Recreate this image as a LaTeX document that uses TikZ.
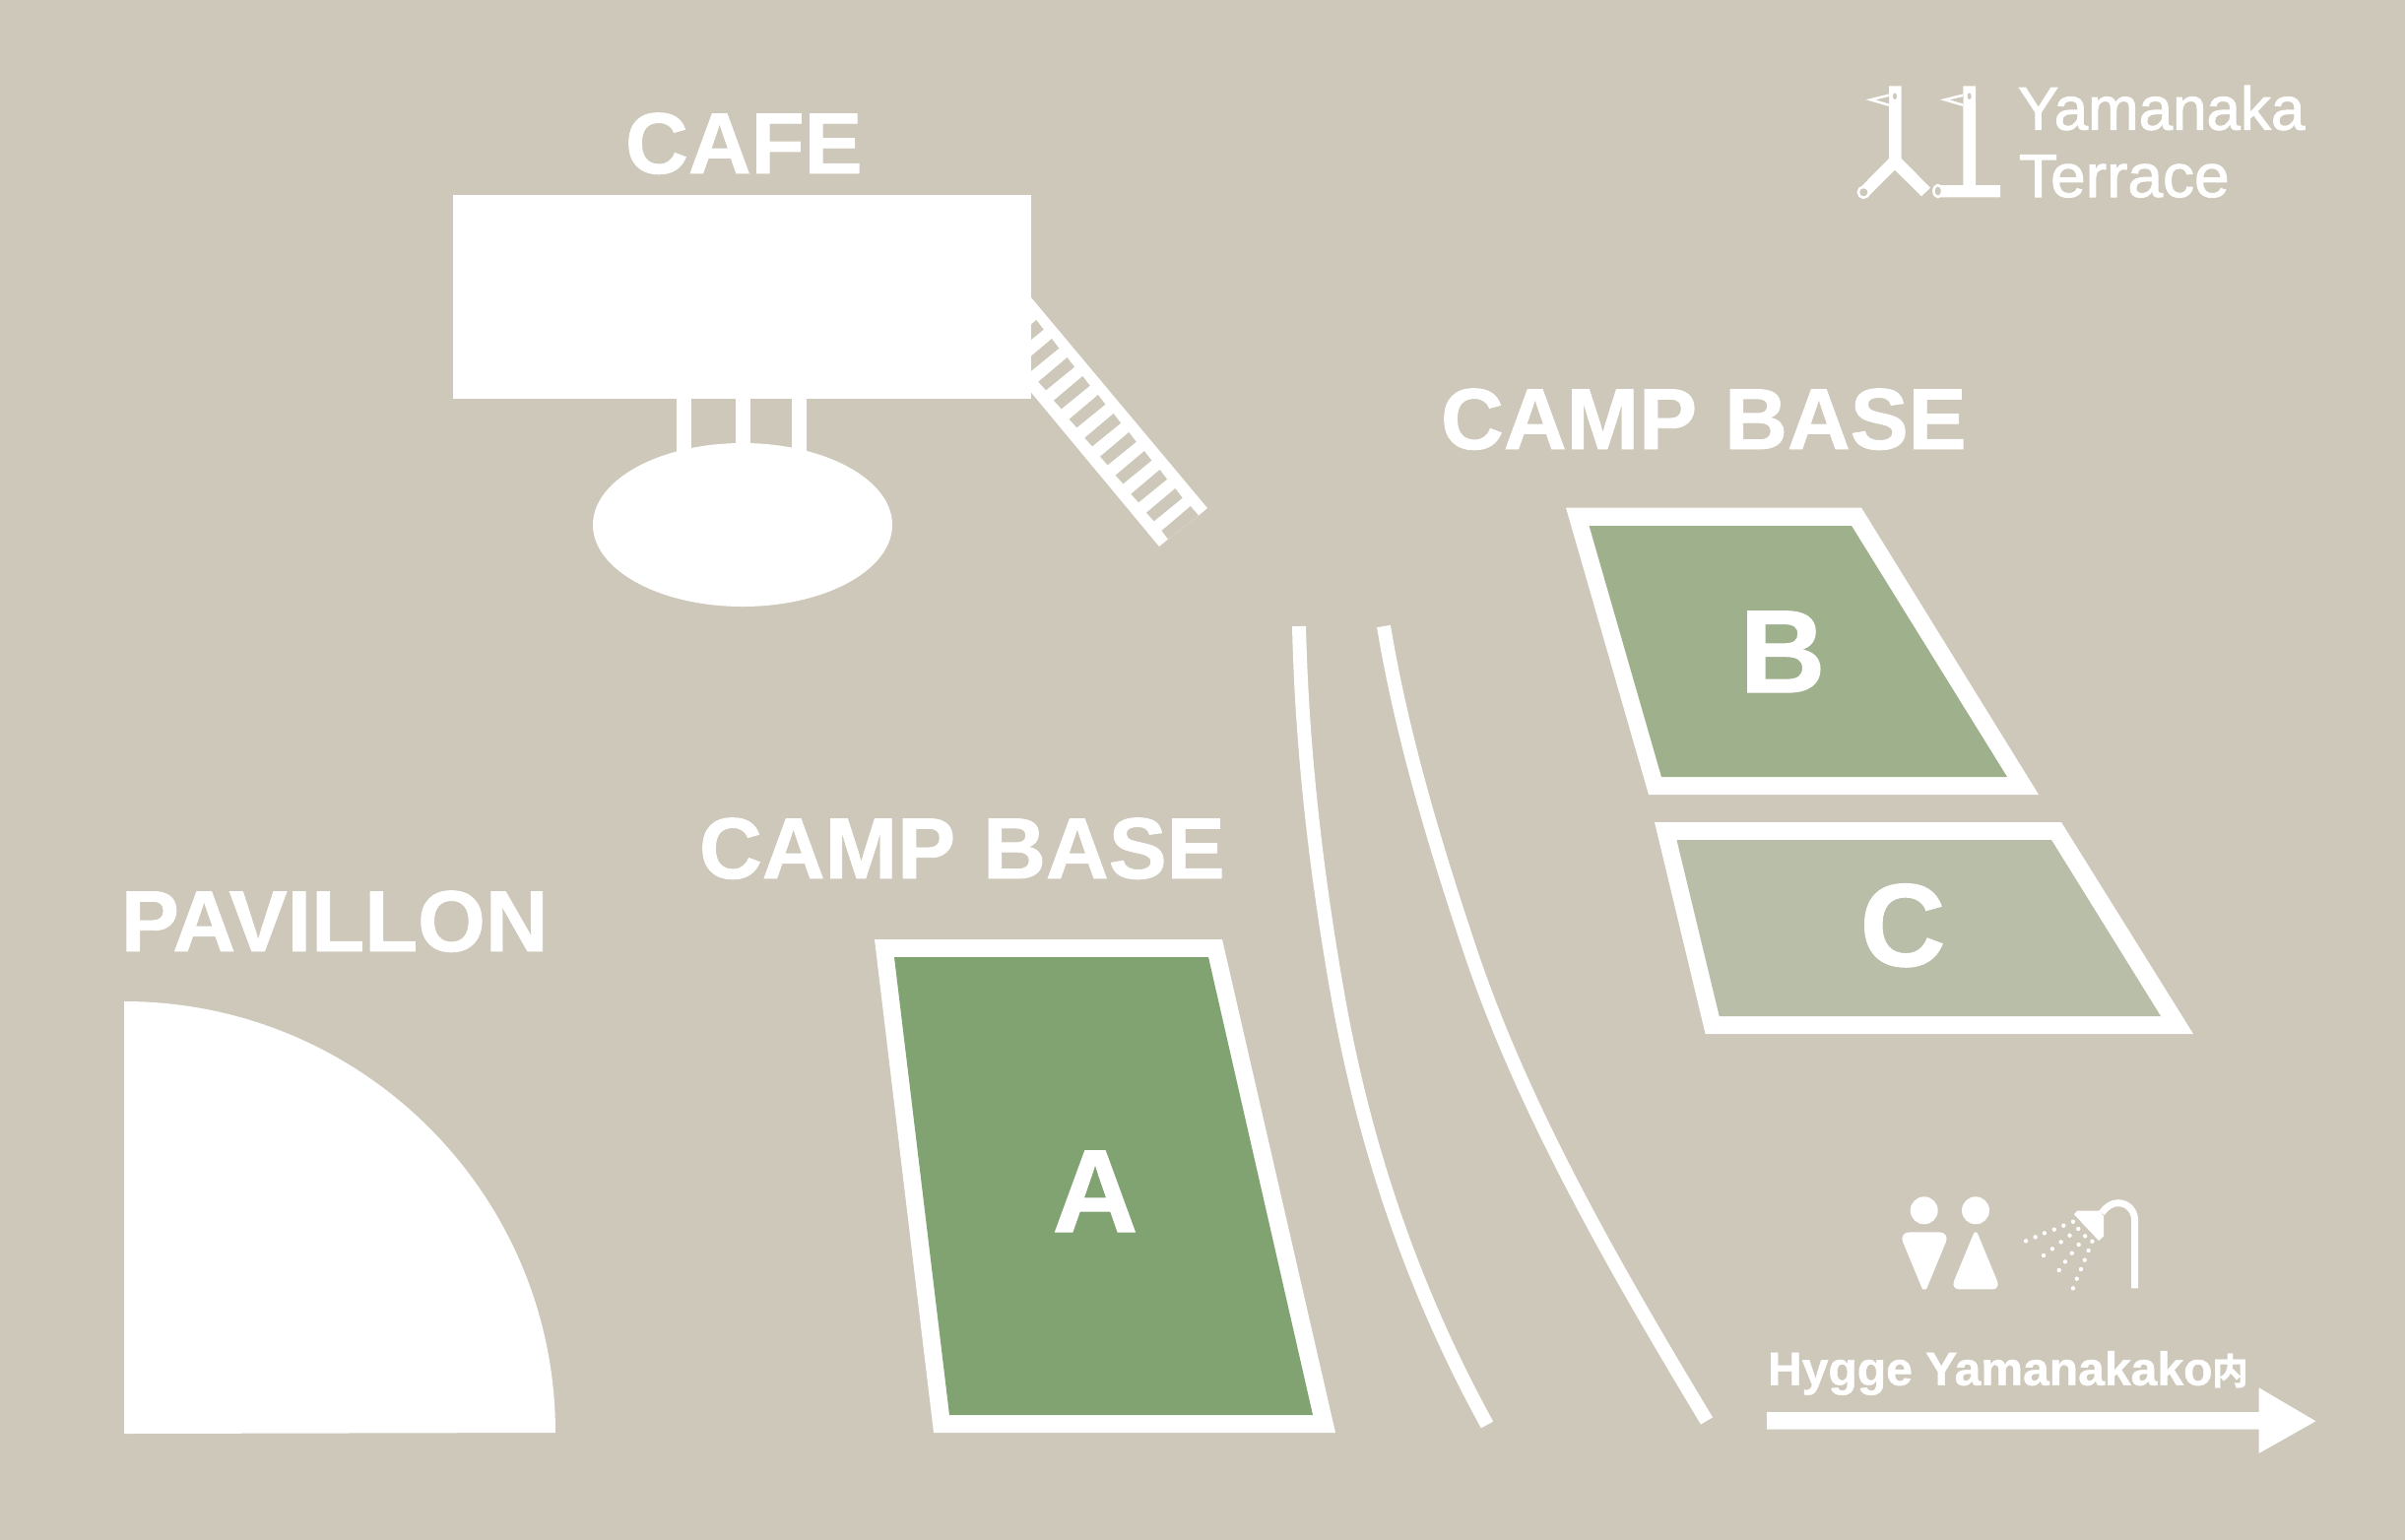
\documentclass[tikz,border=0pt]{standalone}
\usepackage{fontspec}
\setmainfont{Liberation Sans}
\newfontfamily\labfont[FakeStretch=1.005,BoldFeatures={FakeBold=1.0}]{Liberation Sans}
\newfontfamily\logofont[FakeBold=1.6]{Liberation Sans}
\newfontfamily\logowide[FakeBold=1.6,FakeStretch=1.035]{Liberation Sans}
\newfontfamily\cjkfont{Noto Sans CJK JP}
\definecolor{bgc}{HTML}{CDC8B9}
\definecolor{siteA}{HTML}{81A372}
\definecolor{siteB}{HTML}{9EB08C}
\definecolor{siteC}{HTML}{B9BEA8}
\newcommand{\fs}[1]{\fontsize{#1pt}{#1pt}\selectfont}
\tikzset{
  txt/.style={text=white,inner sep=0pt,outer sep=0pt,anchor=base west},
  lab/.style={txt,font=\labfont\bfseries\fs{25}},
  sitelet/.style={txt,anchor=base,font=\labfont\bfseries\fs{34}},
  logotxt/.style={txt,font=\logofont\fs{17.6}},
  logotxtw/.style={txt,font=\logowide\fs{17.6}},
  road/.style={white,line width=0.14cm},
  beak/.style={white,line width=0.025cm,fill=bgc,line join=miter}
}
\begin{document}
\begin{tikzpicture}[x=0.01cm,y=-0.01cm]
\useasboundingbox (0,0) rectangle (2442,1563);
\fill[bgc] (-5,-5) rectangle (2447,1568);

% ladder
\fill[white] (1000,246) -- (1226,516) -- (1217,523.5) -- (1186,547.5) -- (1177,555) -- (1000,342) -- cycle;
\foreach \i in {0,...,9}
  \fill[bgc,shift={({-15.67*\i},{-19*\i})}] (1164,520.7) -- (1193.3,496) -- (1200.7,505.7) -- (1171.7,529.3) -- cycle;
\fill[bgc] (1217,523.5) -- (1186,547.5) -- (1179.5,539) -- (1208.8,514) -- cycle;
% cafe
\fill[white] (459.5,198) rectangle (1047,405);
\fill[white] (687,400) rectangle (702,470);
\fill[white] (747,400) rectangle (762,470);
\fill[white] (804,400) rectangle (819,470);
\fill[white] (754,533) ellipse[x radius=152,y radius=83];
\node[lab] (cafe) at (635,176) {CAFE};

% pavillon
\fill[white] (126,1456) -- (126,1017) arc[start angle=-90,end angle=0,radius=438] -- cycle;
\node[lab] (pav) at (123,966) {PAVILLON};

% site A
\fill[white] (888,954) -- (1241,954) -- (1356,1455) -- (948,1455) -- cycle;
\fill[siteA] (908,972) -- (1227,972) -- (1333,1437) -- (964,1437) -- cycle;
\node[sitelet] (a) at (1112,1251) {A};
\node[lab] (base1) at (710,892) {CAMP\hspace{1pt} BASE};

% site B
\fill[white] (1590,515.6) -- (1890,515.6) -- (2070,807) -- (1674,807) -- cycle;
\fill[siteB] (1613.6,534) -- (1880,534) -- (2038,789) -- (1687,789) -- cycle;
\node[sitelet] (b) at (1810,703) {B};
% site C
\fill[white] (1680,835) -- (2093,835) -- (2227,1050) -- (1731.6,1050) -- cycle;
\fill[siteC] (1702.5,853) -- (2083,853) -- (2194,1032) -- (1745.7,1032) -- cycle;
\node[sitelet] (c) at (1932,981) {C};
\node[lab] (base2) at (1463,456) {CAMP\hspace{1pt} BASE};

% roads
\draw[road] (1319,636) .. controls (1322,764) and (1337,892) .. (1360,1020) .. controls (1386,1162) and (1432,1305) .. (1510,1447);
\draw[road] (1405,636) .. controls (1423,744) and (1455,852) .. (1491,960) .. controls (1544,1121) and (1636,1282) .. (1733,1443);

% logo
\fill[white] (1918,87.3) -- (1930.7,87.3) -- (1930.7,161) -- (1960,190.7) -- (1951,199.3) -- (1924,172.7) -- (1896.7,200) -- (1888.3,191) -- (1918,161) -- cycle;
\fill[white] (1993.3,87.3) -- (2006,87.3) -- (2006,188) -- (2031,188) -- (2031,200.3) -- (1968,200.3) -- (1968,188) -- (1993.3,188) -- cycle;
\draw[beak] (1918,96.7) -- (1899.3,101.3) -- (1918,106.7);
\draw[beak] (1993.3,96.7) -- (1974.7,101.3) -- (1993.3,106.7);
\fill[bgc] (1924,97.7) ellipse[x radius=2,y radius=3.3];
\fill[bgc] (1999.7,97.7) ellipse[x radius=2,y radius=3.3];
\draw[beak] (1892.3,195.3) ellipse[x radius=5.5,y radius=5.5];
\draw[beak] (1967.7,194) ellipse[x radius=4.3,y radius=6];
\node[logotxt] (yam) at (2049,131.7) {Yamanaka};
\node[logotxtw] (ter) at (2050,200) {Terrace};

% toilets
\fill[white] (1953.7,1229.3) ellipse[x radius=14,y radius=14];
\fill[white] (2006,1229.3) ellipse[x radius=14,y radius=14];
\fill[white] (1939,1251.3) -- (1969,1251.3) .. controls (1975,1251.3) and (1978,1256) .. (1976,1261) -- (1956,1309.3) -- (1952,1309.3) -- (1932,1261) .. controls (1930,1256) and (1933,1251.3) .. (1939,1251.3) -- cycle;
\fill[white] (2004,1252.7) .. controls (2005,1250.5) and (2007,1250.5) .. (2008,1252.7) -- (2028,1301) .. controls (2030,1306) and (2027,1309.3) .. (2024,1309.3) -- (1989,1309.3) .. controls (1985,1309.3) and (1982,1306) .. (1984,1301) -- cycle;

% shower
\fill[white] (2106,1233.3) -- (2109,1229.7) -- (2131.3,1229.7) -- (2136,1235) -- (2136,1255.7) -- (2131,1260) -- cycle;
\draw[white,line width=0.07cm] (2134,1232) .. controls (2139,1225) and (2145,1221.7) .. (2150.5,1221.7) .. controls (2161,1221.7) and (2167.7,1230) .. (2167.7,1240) -- (2167.7,1308.3);
\foreach \x/\y in {724/211,749/199,773/187,799/176,824/164,849/152,771/255,794/235,817/214,840/194,863/174,812/300,828/274,846/248,864/222,881/196,849/355,859/326,870/297,880/269,890/240,900/212}
  \fill[white] ({1780+\x*0.3827},{1190+\y/3}) circle[radius=2.2];

% arrow
\node[txt,font=\labfont\bfseries\fs{13.6}] (hyg) at (1795,1406.7) {Hygge Yamanakako{\cjkfont\fs{10.5}内}};
\fill[white] (1794,1434) -- (2293.6,1434) -- (2293.6,1409.3) -- (2351.4,1443.3) -- (2293.6,1476) -- (2293.6,1451.7) -- (1794,1451.7) -- cycle;
\end{tikzpicture}
\end{document}
